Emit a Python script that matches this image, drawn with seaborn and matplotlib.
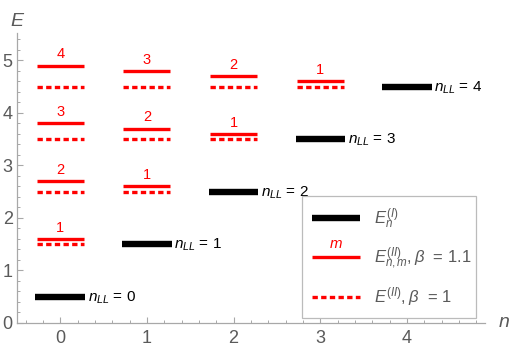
import numpy as np
import pandas as pd
import matplotlib
matplotlib.use("Agg")
import matplotlib.pyplot as plt
import seaborn as sns
from matplotlib.lines import Line2D
from matplotlib.text import Text
from matplotlib.legend_handler import HandlerLine2D
from matplotlib.ticker import MultipleLocator

# ---- data ----
n_LL = [0, 1, 2, 3, 4]
E_I = [0.5, 1.5, 2.5, 3.5, 4.5]
red_n = [0, 0, 0, 0, 1, 1, 1, 2, 2, 3]
red_m = [1, 2, 3, 4, 1, 2, 3, 1, 2, 1]
E_II_b11 = [1.6, 2.7, 3.8, 4.9, 2.6, 3.7, 4.8, 3.6, 4.7, 4.6]
E_II_b1 = [1.5, 2.5, 3.5, 4.5, 2.5, 3.5, 4.5, 3.5, 4.5, 4.5]
x_ticks = [0, 1, 2, 3, 4]
y_ticks = [0, 1, 2, 3, 4, 5]

sns.set_theme(style="white")
plt.rcParams['font.family'] = ['Liberation Sans', 'DejaVu Sans']
plt.rcParams['mathtext.fontset'] = 'custom'
plt.rcParams['mathtext.rm'] = 'Liberation Sans'
plt.rcParams['mathtext.it'] = 'Liberation Sans:italic'
plt.rcParams['mathtext.bf'] = 'Liberation Sans:bold'

GRAY = '#a8a8a8'
TXT = '#5a5a5a'
RED = '#ff0000'

fig = plt.figure(figsize=(5.11, 3.54), dpi=100)
ax = fig.add_axes([0.033, 0.0876, 0.916, 0.819])


def segments(xc, ys, hw):
    rows = []
    for i, (x, y) in enumerate(zip(xc, ys)):
        rows.append({"id": i, "x": x - hw, "E": y})
        rows.append({"id": i, "x": x + hw, "E": y})
    return pd.DataFrame(rows)


df_I = segments(n_LL, E_I, 0.285)
df_b11 = segments(red_n, E_II_b11, 0.27)
df_b1 = segments(red_n, E_II_b1, 0.27)

sns.lineplot(data=df_I, x="x", y="E", units="id", estimator=None, color="black",
             lw=4.6, solid_capstyle="butt", ax=ax, legend=False)
sns.lineplot(data=df_b11, x="x", y="E", units="id", estimator=None, color=RED,
             lw=2.4, solid_capstyle="butt", ax=ax, legend=False)
sns.lineplot(data=df_b1, x="x", y="E", units="id", estimator=None, color=RED,
             lw=2.4, linestyle=(0, (1.6, 1.0)), dash_capstyle="butt", ax=ax, legend=False)

# labels n_LL
for n, e in zip(n_LL, E_I):
    ax.annotate(r"$n_{LL}$ = %d" % n, xy=(n + 0.285, e), xytext=(2, -3.5),
                textcoords="offset points", ha="left", va="baseline",
                fontsize=11, color="black")
# m labels
for n, m, e in zip(red_n, red_m, E_II_b11):
    ax.annotate(str(m), xy=(n, e), xytext=(0, 3), textcoords="offset points",
                ha="center", va="bottom", fontsize=10.5, color=RED)

ax.set_xlim(-0.5, 4.9)
ax.set_ylim(0, 5.52)
ax.set_xticks(x_ticks)
ax.set_yticks(y_ticks)
ax.xaxis.set_minor_locator(MultipleLocator(0.2))
ax.yaxis.set_minor_locator(MultipleLocator(0.2))
ax.tick_params(which="both", direction="in", color=GRAY, labelcolor=TXT,
               labelsize=13, bottom=True, left=True)
ax.tick_params(which="major", length=4.5, width=0.8)
ax.tick_params(which="minor", length=2.5, width=0.7)
ax.tick_params(axis="x", pad=5)
ax.tick_params(axis="y", pad=3)
for s in ["top", "right"]:
    ax.spines[s].set_visible(False)
for s in ["left", "bottom"]:
    ax.spines[s].set_color(GRAY)
    ax.spines[s].set_linewidth(0.9)
ax.set_xlabel("")
ax.set_ylabel("")
ax.text(0.0, 1.01, "E", transform=ax.transAxes, ha="center", va="bottom",
        fontsize=14, style="italic", color=TXT)
ax.text(1.04, 0.0, "n", transform=ax.transAxes, ha="center", va="center",
        fontsize=14, style="italic", color=TXT)


class HandlerLineM(HandlerLine2D):
    def create_artists(self, legend, orig_handle, xdescent, ydescent, width,
                       height, fontsize, trans):
        arts = super().create_artists(legend, orig_handle, xdescent, ydescent,
                                      width, height, fontsize, trans)
        t = Text(width / 2 - xdescent, height / 2 - ydescent + 4, "m",
                 color=RED, style="italic", ha="center", va="bottom",
                 fontsize=fontsize * 0.9)
        t.set_transform(trans)
        return list(arts) + [t]


h1 = Line2D([], [], color="black", lw=4.6, solid_capstyle="butt")
h2 = Line2D([], [], color=RED, lw=2.4, solid_capstyle="butt")
h3 = Line2D([], [], color=RED, lw=2.4, linestyle=(0, (1.6, 1.0)), dash_capstyle="butt")
labels = [r"$E^{(I)}_{n}$", r"$E^{(II)}_{n,m}, \beta\ $ = 1.1", r"$E^{(II)}, \beta\ $ = 1"]
leg = ax.legend([h1, h2, h3], labels, handler_map={h2: HandlerLineM()},
                loc="lower left", bbox_to_anchor=(0.609, 0.017, 0.372, 0.4),
                mode="expand",
                fontsize=12, labelcolor=TXT, frameon=True, fancybox=False,
                edgecolor="#bbbbbb", framealpha=1, handlelength=2.9,
                handletextpad=0.85, labelspacing=0.85, borderpad=0.6,
                borderaxespad=0)
leg.get_frame().set_linewidth(0.9)

fig.savefig("out.png", dpi=100)
